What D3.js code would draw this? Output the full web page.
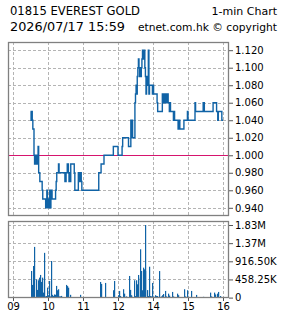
<!DOCTYPE html>
<html><head><meta charset="utf-8">
<script src="https://cdn.jsdelivr.net/npm/d3@7"></script>
<style>
html,body{margin:0;padding:0;background:#fff;}
svg{display:block;}
text{font-family:"DejaVu Sans",Verdana,sans-serif;fill:#000;}
</style></head><body>
<svg id="c" width="285" height="318"></svg>
<script>
// ---------- data ----------
const titleLeft1 = "01815 EVEREST GOLD";
const titleRight1 = "1-min Chart";
const titleLeft2 = "2026/07/17 15:59";
const titleRight2 = "etnet.com.hk © copyright";

const prevClose = 1.00;

const priceTimes = ["09:30","09:31","09:32","09:33","09:34","09:36","09:37","09:38","09:39","09:40","09:41","09:42","09:43","09:44","09:46","09:50","09:51","09:56","09:57","09:58","09:59","10:00","10:01","10:02","10:03","10:04","10:05","10:06","10:07","10:13","10:14","10:15","10:18","10:19","10:29","10:31","10:33","10:35","10:36","10:37","10:38","10:39","10:45","10:46","10:52","10:53","10:54","10:55","10:56","10:57","10:58","11:27","11:31","11:36","11:52",
"13:00","13:07","13:08","13:18","13:22","13:23","13:24","13:25","13:29","13:30","13:31","13:32","13:33","13:34","13:35","13:36","13:37","13:38","13:39","13:40","13:41","13:42","13:43","13:44","13:46","13:47","13:48","13:49","13:50","13:51","13:52","13:53","13:54","13:59","14:00","14:01","14:07","14:08","14:16","14:17","14:18","14:19","14:20","14:21","14:23","14:24","14:25","14:26","14:28","14:29","14:30","14:35","14:36","14:37","14:43","14:44","14:46","14:53","14:59","15:00","15:12","15:13","15:26","15:28","15:43","15:49","15:51","15:52","15:58","16:00"];
const priceValues = [1.05,1.04,1.05,1.04,1.03,1.00,0.99,1.00,0.99,1.00,0.99,1.00,1.01,0.98,0.97,0.96,0.95,0.94,0.95,0.96,0.94,0.95,0.94,0.95,0.96,0.94,0.95,0.96,0.95,0.96,0.97,0.98,0.99,0.98,0.97,0.98,0.99,0.98,0.97,0.98,0.97,0.99,0.98,0.96,0.98,0.97,0.98,0.97,0.98,0.97,0.96,0.98,0.99,1.00,1.01,
1.00,1.01,1.02,1.01,1.04,1.02,1.04,1.02,1.06,1.07,1.08,1.07,1.09,1.10,1.11,1.10,1.09,1.10,1.09,1.10,1.11,1.12,1.11,1.12,1.10,1.09,1.07,1.08,1.09,1.08,1.12,1.07,1.08,1.07,1.08,1.07,1.06,1.05,1.07,1.06,1.07,1.06,1.07,1.06,1.07,1.06,1.07,1.06,1.05,1.06,1.05,1.04,1.05,1.04,1.03,1.04,1.03,1.04,1.05,1.04,1.06,1.05,1.06,1.05,1.06,1.05,1.04,1.05,1.04,1.04];

const volTimes = ["09:31","09:33","09:34","09:36","09:39","09:41","09:43","09:45","09:46","09:48","09:50","09:51","09:53","09:55","09:57","09:58","10:00","10:02","10:03","10:05","10:07","10:09","10:10","10:12","10:14","10:15","10:17","10:19","10:21","10:22","10:30","10:32","10:34","10:37","10:54","11:29","11:31","11:38","11:51","11:53",
"13:00","13:02","13:03","13:08","13:10","13:11","13:13","13:18","13:20","13:22","13:23","13:27","13:29","13:30","13:32","13:34","13:35","13:37","13:39","13:41","13:42","13:44","13:46","13:47","13:49","13:51","13:53","13:54","13:56","13:58","13:59","14:01","14:03","14:05","14:06","14:10","14:11","14:13","14:15","14:17","14:21","14:23","14:25","14:27","14:32","14:34","14:41","14:42","14:53","14:55","14:59","15:06","15:14","15:26","15:37","15:40","15:44","15:47","15:50","15:51","15:54"];
const volValues = [672000,320000,798000,1280000,463000,194000,438000,504000,572000,395000,504000,126000,1130000,30000,40000,252000,60000,420000,30000,924000,70000,40000,80000,70000,295000,186000,211000,30000,30000,43000,320000,290000,250000,70000,70000,395000,345000,370000,186000,420000,
60000,168000,40000,211000,30000,100000,30000,546000,194000,40000,60000,437000,40000,437000,336000,571000,504000,1220000,672000,186000,756000,714000,672000,1833000,190000,40000,780000,40000,30000,370000,40000,20000,60000,40000,40000,670000,20000,30000,60000,90000,168000,30000,100000,50000,143000,30000,100000,60000,211000,30000,186000,168000,67000,20000,126000,30000,126000,80000,100000,143000,40000];

const hourTimes = ["09:00","10:00","11:00","12:00","14:00","15:00","16:00"];
const hourLabels = ["09","10","11","12","14","15","16"];
const priceTicks = [0.94,0.96,0.98,1.00,1.02,1.04,1.06,1.08,1.10,1.12];
const volTicks = [0,458250,916500,1374750,1833000];
const volTickLabels = ["0","458.25K","916.50K","1.37M","1.83M"];

// ---------- helpers ----------
function tradeMin(t){
  const [h,m] = t.split(":").map(Number);
  let v = h*60+m - 540;
  if (v > 180) v = Math.max(180, v - 60);
  return v;
}

const svg = d3.select("#c");
const blue = "#1063a6", magenta = "#d6146e", gridC = "#b4b4b4", borderC = "#808080";

const L = 8, R = 229;
const main = {top:42, bottom:216};
const vol = {top:221, bottom:298};

const x = d3.scaleLinear().domain([0,360]).range([13,223]);
const y = d3.scaleLinear().domain([0.94,1.12]).range([207.8,50.2]);
const yv = d3.scaleLinear().domain([0,1833000]).range([297.6,225]);

const px = v => Math.round(v)+0.5;

// ---------- titles ----------
svg.append("text").attr("x",10).attr("y",15).attr("font-size",12).attr("textLength",130).attr("lengthAdjust","spacingAndGlyphs").text(titleLeft1);
svg.append("text").attr("x",277).attr("y",15).attr("font-size",11).attr("text-anchor","end").text(titleRight1);
svg.append("text").attr("x",10).attr("y",31).attr("font-size",12).attr("textLength",115).attr("lengthAdjust","spacingAndGlyphs").text(titleLeft2);
svg.append("text").attr("x",138).attr("y",31).attr("font-size",11).attr("textLength",139).attr("lengthAdjust","spacingAndGlyphs").text(titleRight2);

// ---------- grids ----------
function vgrid(top,bottom){
  svg.append("g").selectAll("line").data(hourTimes).join("line")
    .attr("x1",d=>px(x(tradeMin(d)))).attr("x2",d=>px(x(tradeMin(d))))
    .attr("y1",top).attr("y2",bottom)
    .attr("stroke",gridC).attr("stroke-dasharray","3,2").attr("shape-rendering","crispEdges");
}
vgrid(main.top, main.bottom);
vgrid(vol.top, vol.bottom);

svg.append("g").selectAll("line").data(priceTicks.filter(d=>d!==prevClose)).join("line")
  .attr("x1",L).attr("x2",R).attr("y1",d=>px(y(d))).attr("y2",d=>px(y(d)))
  .attr("stroke",gridC).attr("stroke-dasharray","3,2").attr("shape-rendering","crispEdges");
svg.append("g").selectAll("line").data(volTicks.filter(d=>d>0)).join("line")
  .attr("x1",L).attr("x2",R).attr("y1",d=>px(yv(d))).attr("y2",d=>px(yv(d)))
  .attr("stroke",gridC).attr("stroke-dasharray","3,2").attr("shape-rendering","crispEdges");

// ---------- volume bars ----------
const vdata = volTimes.map((t,i)=>({t:tradeMin(t), v:volValues[i]}));
svg.append("g").selectAll("rect").data(vdata).join("rect")
  .attr("x",d=>Math.round(x(d.t))).attr("width",1.2)
  .attr("y",d=>yv(d.v)).attr("height",d=>yv(0)-yv(d.v))
  .attr("fill",blue);

// ---------- prev close line ----------
svg.append("line").attr("x1",L).attr("x2",R).attr("y1",px(y(prevClose))).attr("y2",px(y(prevClose)))
  .attr("stroke",magenta).attr("stroke-width",1).attr("shape-rendering","crispEdges");

// ---------- price line ----------
const pdata = priceTimes.map((t,i)=>({t:tradeMin(t), p:priceValues[i]}));
const line = d3.line().x(d=>x(d.t)).y(d=>y(d.p)).curve(d3.curveStepAfter);
svg.append("path").datum(pdata).attr("d",line).attr("fill","none").attr("stroke",blue).attr("stroke-width",1.4);

// ---------- borders ----------
[main,vol].forEach(b=>{
  svg.append("rect").attr("x",L+0.5).attr("y",b.top+0.5).attr("width",R-L-1).attr("height",b.bottom-b.top-1)
    .attr("fill","none").attr("stroke",borderC).attr("stroke-width",1.3);
});

// ---------- axes ----------
const axMain = d3.axisRight(y).tickValues(priceTicks).tickSize(4).tickPadding(2).tickFormat(d3.format(".3f"));
const gm = svg.append("g").attr("transform",`translate(${R},0)`).call(axMain);
gm.select(".domain").remove();
gm.selectAll(".tick line").attr("stroke","#555");
gm.selectAll("text").attr("font-size",10).attr("font-family","DejaVu Sans").attr("fill","#000");

const axVol = d3.axisRight(yv).tickValues(volTicks).tickSize(4).tickPadding(2).tickFormat((d,i)=>volTickLabels[i]);
const gv = svg.append("g").attr("transform",`translate(${R},0)`).call(axVol);
gv.select(".domain").remove();
gv.selectAll(".tick line").attr("stroke","#555");
gv.selectAll("text").attr("font-size",10).attr("font-family","DejaVu Sans").attr("fill","#000");

const axX = d3.axisBottom(x).tickValues(hourTimes.map(tradeMin)).tickSize(3).tickPadding(2).tickFormat((d,i)=>hourLabels[i]);
const gx = svg.append("g").attr("transform",`translate(0,${vol.bottom})`).call(axX);
gx.select(".domain").remove();
gx.selectAll(".tick line").attr("stroke","#555");
gx.selectAll("text").attr("font-size",10).attr("font-family","DejaVu Sans").attr("fill","#000");
</script>
</body></html>
